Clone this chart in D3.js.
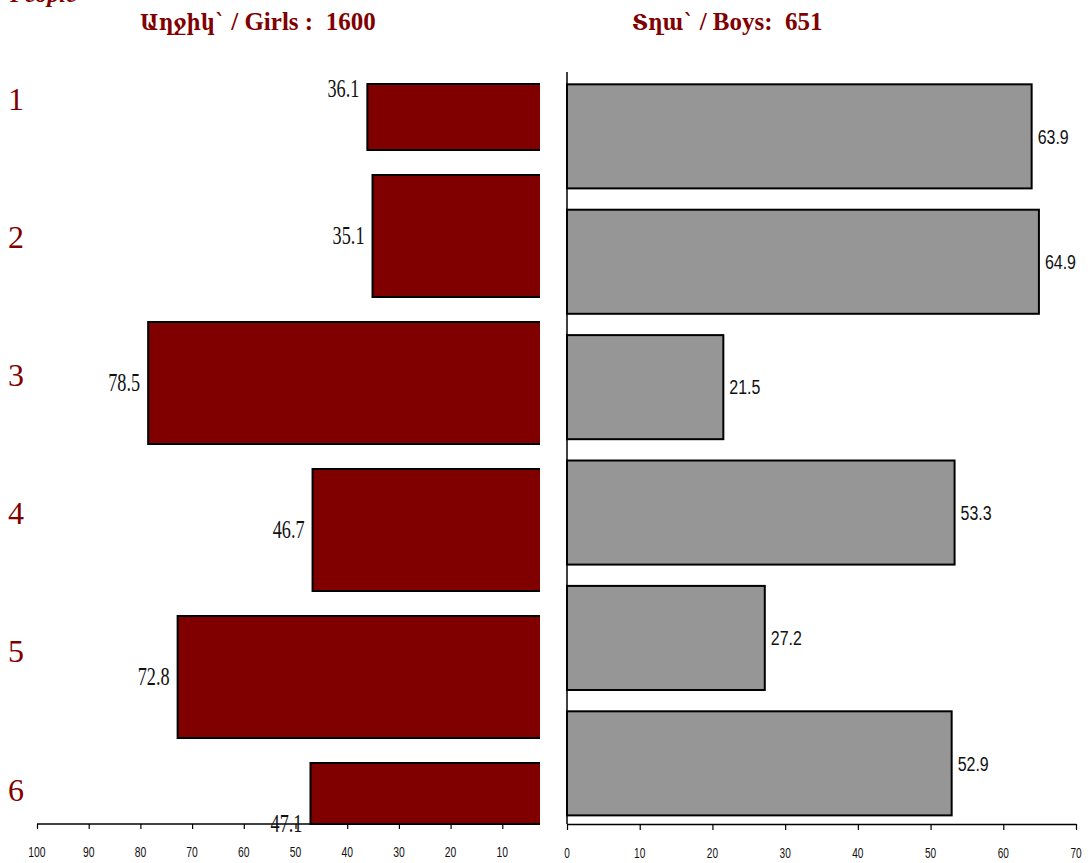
<!DOCTYPE html>
<html><head><meta charset="utf-8">
<script src="https://cdn.jsdelivr.net/npm/d3@7"></script>
<style>body{margin:0;background:#fff}svg{display:block}</style>
</head><body>
<svg id="c" width="1088" height="863"></svg>
<script>
// ---- data ----
const categories = ["1", "2", "3", "4", "5", "6"];
const girls = [36.1, 35.1, 78.5, 46.7, 72.8, 47.1];
const boys = [63.9, 64.9, 21.5, 53.3, 27.2, 52.9];
const girlTicks = [100, 90, 80, 70, 60, 50, 40, 30, 20, 10];
const boyTicks = [0, 10, 20, 30, 40, 50, 60, 70];
const titleGirlsArm = "Աղջիկ`";
const titleGirlsLat = " / Girls :  1600";
const titleBoysArm = "Տղա`";
const titleBoysLat = " / Boys:  651";
const cornerText = "People";

// ---- layout ----
const W = 1088, H = 863;
const plotTop = 84, plotBottom = 824;
const leftCut = 540;
const maroon = "#800000", grey = "#969696";

const svg = d3.select("#c");

// scales
const xL = d3.scaleLinear().domain([0, 100]).range([554, 37]);
const yL = d3.scaleBand().domain(categories).range([3, 910]).paddingInner(0.17).paddingOuter(0.17);
const xR = d3.scaleLinear().domain([0, 70]).range([567, 1076]);
const yR = d3.scaleBand().domain(categories).range([63, 836.7]).paddingInner(0.17).paddingOuter(0.17);
const yRow = d3.scalePoint().domain(categories).range([98.5, 789.5]);

function ctext(parent, x, y, str, sx, attrs) {
  const g = parent.append("g").attr("transform", `translate(${x},${y}) scale(${sx},1)`);
  const t = g.append("text").text(str);
  for (const k in attrs) t.attr(k, attrs[k]);
  return t;
}

// corner text (clipped at top, as in the source)
svg.append("text").attr("x", 10).attr("y", 2).text(cornerText)
  .attr("font-family", "Liberation Serif").attr("font-style", "italic").attr("font-weight", "bold")
  .attr("font-size", 24).attr("fill", maroon);

// titles
function title(x, arm, lat) {
  const t = svg.append("text").attr("x", x).attr("y", 30)
    .style("white-space", "pre").attr("fill", maroon).attr("font-weight", "bold");
  t.append("tspan").text(arm)
    .attr("font-family", "'DejaVu Serif Condensed','DejaVu Serif',serif").attr("font-size", 22);
  t.append("tspan").text(lat)
    .attr("font-family", "'Liberation Serif',serif").attr("font-size", 25);
}
title(140, titleGirlsArm, titleGirlsLat);
title(632, titleBoysArm, titleBoysLat);

// row labels
svg.append("g").selectAll("text").data(categories).join("text")
  .attr("x", 16).attr("y", d => yRow(d)).text(d => d)
  .attr("text-anchor", "middle").attr("dominant-baseline", "central")
  .attr("font-family", "Liberation Serif").attr("font-size", 32).attr("fill", maroon);

// ---- left panel ----
svg.append("clipPath").attr("id", "lclip").append("rect")
  .attr("x", 0).attr("y", 0).attr("width", leftCut).attr("height", H);

const gl = svg.append("g").attr("clip-path", "url(#lclip)");
gl.selectAll("rect").data(categories).join("rect")
  .attr("x", (d, i) => xL(girls[i]))
  .attr("width", (d, i) => xL(0) - xL(girls[i]) + 4)
  .attr("y", d => Math.max(yL(d), plotTop))
  .attr("height", d => Math.min(yL(d) + yL.bandwidth(), plotBottom) - Math.max(yL(d), plotTop))
  .attr("fill", maroon).attr("stroke", "#000").attr("stroke-width", 2);

// left axis
svg.append("line").attr("x1", xL(100)).attr("x2", leftCut)
  .attr("y1", plotBottom).attr("y2", plotBottom).attr("stroke", "#000").attr("stroke-width", 1.3);
const axL = svg.append("g").attr("transform", `translate(0,${plotBottom})`)
  .call(d3.axisBottom(xL).tickValues(girlTicks).tickSize(5).tickFormat(""));
axL.select(".domain").remove();
axL.selectAll(".tick line").attr("stroke", "#000").attr("stroke-width", 1.2);
girlTicks.forEach(v => ctext(svg, xL(v), 852, String(v), 0.74, {
  "text-anchor": "middle", "dominant-baseline": "central",
  "font-family": "Liberation Sans", "font-size": 14, "fill": "#111"
}));

// left value labels
categories.forEach((c, i) => ctext(svg, xL(girls[i]) - 8, yL(c) + yL.bandwidth() / 2, girls[i].toFixed(1), 0.73, {
  "text-anchor": "end", "dominant-baseline": "central",
  "font-family": "Liberation Serif", "font-size": 25, "fill": "#111"
}));

// ---- right panel ----
svg.append("g").selectAll("rect").data(categories).join("rect")
  .attr("x", xR(0))
  .attr("width", (d, i) => xR(boys[i]) - xR(0))
  .attr("y", d => yR(d))
  .attr("height", yR.bandwidth())
  .attr("fill", grey).attr("stroke", "#000").attr("stroke-width", 2);

svg.append("line").attr("x1", xR(0)).attr("x2", xR(0))
  .attr("y1", 72).attr("y2", plotBottom).attr("stroke", "#000").attr("stroke-width", 1.5);
const axR = svg.append("g").attr("transform", `translate(0,${plotBottom})`)
  .call(d3.axisBottom(xR).tickValues(boyTicks).tickSize(6).tickSizeOuter(0).tickFormat(""));
axR.select(".domain").attr("stroke", "#000").attr("stroke-width", 1.3);
axR.selectAll(".tick line").attr("stroke", "#000").attr("stroke-width", 1.2);
boyTicks.forEach(v => ctext(svg, xR(v), 853, String(v), 0.72, {
  "text-anchor": "middle", "dominant-baseline": "central",
  "font-family": "Liberation Sans", "font-size": 14, "fill": "#111"
}));

categories.forEach((c, i) => ctext(svg, xR(boys[i]) + 6, yR(c) + yR.bandwidth() / 2, boys[i].toFixed(1), 0.76, {
  "text-anchor": "start", "dominant-baseline": "central",
  "font-family": "Liberation Sans", "font-size": 21, "fill": "#111"
}));
</script>
</body></html>
